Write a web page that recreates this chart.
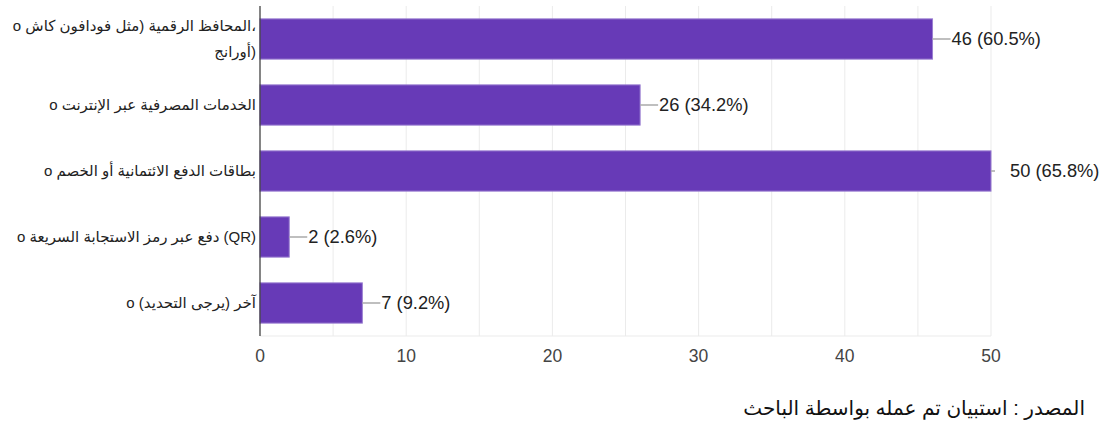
<!DOCTYPE html>
<html>
<head>
<meta charset="utf-8">
<script src="https://cdn.jsdelivr.net/npm/d3@7"></script>
<style>
  body { margin: 0; background: #fff; }
  svg { display: block; }
</style>
</head>
<body>
<div id="chart"></div>
<script>
// category labels (each may wrap on several lines)
const categories = [
  ["،المحافظ الرقمية (مثل فودافون كاش o", "(أورانج"],
  ["الخدمات المصرفية عبر الإنترنت o"],
  ["بطاقات الدفع الائتمانية أو الخصم o"],
  ["(QR) دفع عبر رمز الاستجابة السريعة o"],
  ["آخر (يرجى التحديد) o"],
];
const counts = [46, 26, 50, 2, 7];
const percents = ["60.5%", "34.2%", "65.8%", "2.6%", "9.2%"];
const xTicks = [0, 10, 20, 30, 40, 50];
const sourceNote = "المصدر : استبيان تم عمله بواسطة الباحث";

const size = { width: 1110, height: 428 };
const margin = { top: 6, right: 119, bottom: 92, left: 260 };

const svg = d3
  .select("#chart")
  .append("svg")
  .attr("width", size.width)
  .attr("height", size.height);

const x = d3
  .scaleLinear()
  .domain([0, 50])
  .range([margin.left, size.width - margin.right]);

const y = d3
  .scaleBand()
  .domain(d3.range(categories.length))
  .range([margin.top, size.height - margin.bottom])
  .paddingInner(0.39)
  .paddingOuter(0.195);

const plotBottom = size.height - margin.bottom;

// gridlines every 5
svg
  .append("g")
  .selectAll("line")
  .data(d3.range(5, 51, 5))
  .join("line")
  .attr("x1", (d) => x(d))
  .attr("x2", (d) => x(d))
  .attr("y1", margin.top)
  .attr("y2", plotBottom)
  .attr("stroke", "#ebebeb")
  .attr("stroke-width", 1);

svg
  .append("line")
  .attr("x1", x(0))
  .attr("x2", x(50))
  .attr("y1", plotBottom)
  .attr("y2", plotBottom)
  .attr("stroke", "#ebebeb");

// bars
svg
  .append("g")
  .selectAll("rect")
  .data(counts)
  .join("rect")
  .attr("x", x(0))
  .attr("y", (_, i) => y(i))
  .attr("width", (d) => x(d) - x(0))
  .attr("height", y.bandwidth())
  .attr("fill", "#673ab7")
  .attr("stroke", "#9a7fd1")
  .attr("stroke-width", 1);

// leader lines + value labels
const valueG = svg.append("g");
valueG
  .selectAll("line")
  .data(counts)
  .join("line")
  .attr("x1", (d) => x(d))
  .attr("x2", (d) => x(d) + (d === 50 ? 4 : 18))
  .attr("y1", (_, i) => y(i) + y.bandwidth() / 2)
  .attr("y2", (_, i) => y(i) + y.bandwidth() / 2)
  .attr("stroke", "#aaaaaa")
  .attr("stroke-width", 1.5);

valueG
  .selectAll("text")
  .data(counts)
  .join("text")
  .attr("x", (d) => x(d) + 19)
  .attr("y", (_, i) => y(i) + y.bandwidth() / 2)
  .attr("dy", "0.35em")
  .attr("font-family", "Arial, 'Liberation Sans', sans-serif")
  .attr("font-size", 18.3)
  .attr("fill", "#222")
  .text((d, i) => `${d} (${percents[i]})`);

// y axis line
svg
  .append("line")
  .attr("x1", x(0))
  .attr("x2", x(0))
  .attr("y1", margin.top)
  .attr("y2", plotBottom)
  .attr("stroke", "#333")
  .attr("stroke-width", 1.2);

// category labels
const labelG = svg.append("g");
categories.forEach((lines, i) => {
  const cy = y(i) + y.bandwidth() / 2;
  const lh = 26;
  const t = labelG
    .append("text")
    .attr("direction", "rtl")
    .attr("text-anchor", "start")
    .attr("font-family", "Arial, 'Liberation Sans', 'DejaVu Sans', sans-serif")
    .attr("font-size", 15)
    .attr("fill", "#222");
  lines.forEach((line, j) => {
    t.append("tspan")
      .attr("x", x(0) - 4)
      .attr("y", cy + (j - (lines.length - 1) / 2) * lh)
      .attr("dy", "0.35em")
      .text(line);
  });
});

// x tick labels
svg
  .append("g")
  .selectAll("text")
  .data(xTicks)
  .join("text")
  .attr("x", (d) => x(d))
  .attr("y", plotBottom + 20)
  .attr("dy", "0.35em")
  .attr("text-anchor", "middle")
  .attr("font-family", "Arial, 'Liberation Sans', sans-serif")
  .attr("font-size", 17.5)
  .attr("fill", "#444")
  .text((d) => d);

// source note
svg
  .append("text")
  .attr("x", 1085)
  .attr("y", 408)
  .attr("dy", "0.35em")
  .attr("direction", "rtl")
  .attr("text-anchor", "start")
  .attr("font-family", "Arial, 'Liberation Sans', 'DejaVu Sans', sans-serif")
  .attr("font-size", 20)
  .attr("fill", "#111")
  .text(sourceNote);
</script>
</body>
</html>
